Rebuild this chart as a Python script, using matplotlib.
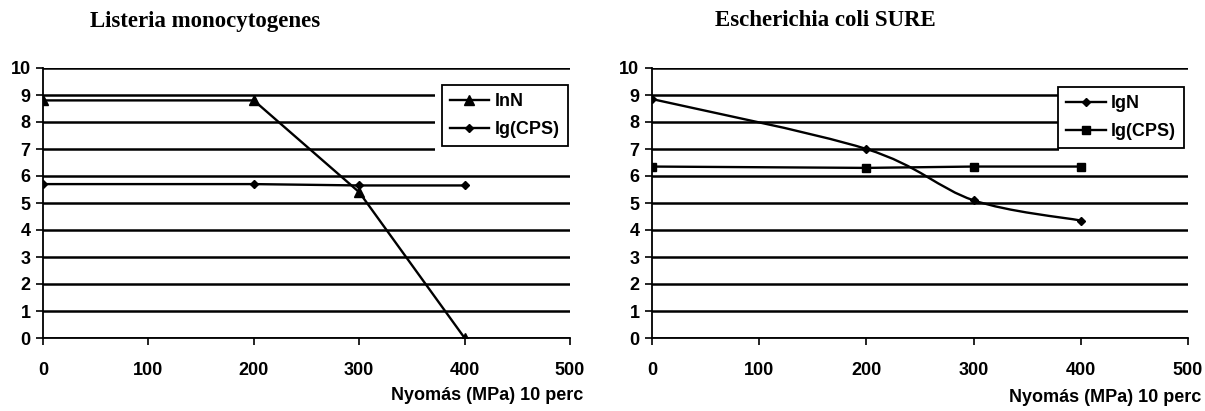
import matplotlib
matplotlib.use('Agg')
import matplotlib.pyplot as plt
from matplotlib.patches import Rectangle, PathPatch
from matplotlib.path import Path
import numpy as np

# pressure (MPa), 10 min treatment
pressure = [0, 200, 300, 400]

# Listeria monocytogenes
listeria_lnN = [8.8, 8.8, 5.4, 0.0]
listeria_lgCPS = [5.7, 5.7, 5.65, 5.65]

# Escherichia coli SURE
ecoli_lgN = [8.85, 7.0, 5.1, 4.35]
ecoli_lgCPS = [6.35, 6.3, 6.35, 6.35]

titles = ['Listeria monocytogenes', 'Escherichia coli SURE']
xlabel = 'Nyomás (MPa) 10 perc'

plt.rcParams['font.family'] = ['Liberation Sans', 'DejaVu Sans']
plt.rcParams['font.weight'] = 'bold'

W, H = 1205, 411


def smooth_path(x, y):
    # Catmull-Rom style smoothing (like spreadsheet "smoothed line")
    x = np.asarray(x, float)
    y = np.asarray(y, float)
    pts = np.column_stack([x, y])
    verts = [pts[0]]
    codes = [Path.MOVETO]
    n = len(pts)
    for i in range(n - 1):
        p0 = pts[i - 1] if i > 0 else pts[i]
        p1 = pts[i]
        p2 = pts[i + 1]
        p3 = pts[i + 2] if i + 2 < n else pts[i + 1]
        c1 = p1 + (p2 - p0) / 6.0
        c2 = p2 - (p3 - p1) / 6.0
        verts += [c1, c2, p2]
        codes += [Path.CURVE4] * 3
    return Path(verts, codes)


def style_axes(ax, white_x0):
    ax.set_xlim(0, 500)
    ax.set_ylim(0, 10)
    ax.set_xticks(range(0, 501, 100))
    ax.set_yticks(range(0, 11))
    ax.yaxis.grid(True, color='black', linewidth=1.8)
    ax.set_axisbelow(True)
    for s in ['top', 'right']:
        ax.spines[s].set_visible(False)
    ax.spines['left'].set_linewidth(1.3)
    ax.spines['bottom'].set_linewidth(1.3)
    ax.tick_params(axis='both', direction='out', length=5, width=1.2,
                   labelsize=13)
    ax.tick_params(axis='x', pad=12)
    ax.tick_params(axis='y', pad=4)
    for lab in ax.get_xticklabels() + ax.get_yticklabels():
        lab.set_fontweight('bold')
    # white background behind the legend hides gridlines
    ax.add_patch(Rectangle((white_x0, 6.55), 510 - white_x0, 3.0,
                           facecolor='white', edgecolor='none', zorder=1,
                           clip_on=False))


def make_legend(ax, anchor):
    leg = ax.legend(loc='upper right', bbox_to_anchor=anchor, borderaxespad=0,
                    frameon=True, fancybox=False, edgecolor='black',
                    framealpha=1, handlelength=2.2, handletextpad=0.3,
                    borderpad=0.45, labelspacing=0.6,
                    prop={'weight': 'bold', 'size': 13})
    leg.get_frame().set_linewidth(1.3)
    leg.set_zorder(5)
    return leg


fig = plt.figure(figsize=(W / 100, H / 100), dpi=100)
ax1 = fig.add_axes([43 / W, 1 - 338 / H, 527 / W, 270 / H])
ax2 = fig.add_axes([652 / W, 1 - 338 / H, 536 / W, 270 / H])

# left panel
style_axes(ax1, 372)
ax1.plot(pressure, listeria_lnN, color='black', lw=1.7, marker='^',
         markersize=6.5, label='lnN', zorder=3)
ax1.plot(pressure, listeria_lgCPS, color='black', lw=1.7, marker='D',
         markersize=4.5, label='lg(CPS)', zorder=3)
make_legend(ax1, (0.996, 0.937))

# right panel
style_axes(ax2, 380)
ax2.add_patch(PathPatch(smooth_path(pressure, ecoli_lgN), facecolor='none',
                        edgecolor='black', lw=1.7, zorder=3))
ax2.plot(pressure, ecoli_lgN, color='black', lw=0, marker='D',
         markersize=4.5, zorder=3)
ax2.plot([], [], color='black', lw=1.7, marker='D', markersize=4.5,
         label='lgN')
ax2.plot(pressure, ecoli_lgCPS, color='black', lw=1.7, marker='s',
         markersize=6, label='lg(CPS)', zorder=3)
make_legend(ax2, (0.993, 0.93))

# titles
fig.text(90 / W, 1 - 21 / H, titles[0], family='Liberation Serif',
         weight='bold', fontsize=16.5, ha='left', va='center')
fig.text(715 / W, 1 - 21 / H, titles[1], family='Liberation Serif',
         weight='bold', fontsize=16.5, ha='left', va='center')

# x labels
fig.text(583 / W, 1 - 395 / H, xlabel, weight='bold', fontsize=13,
         ha='right', va='center')
fig.text(1201 / W, 1 - 397 / H, xlabel, weight='bold', fontsize=13,
         ha='right', va='center')

fig.savefig('out.png', dpi=100, facecolor='white')
